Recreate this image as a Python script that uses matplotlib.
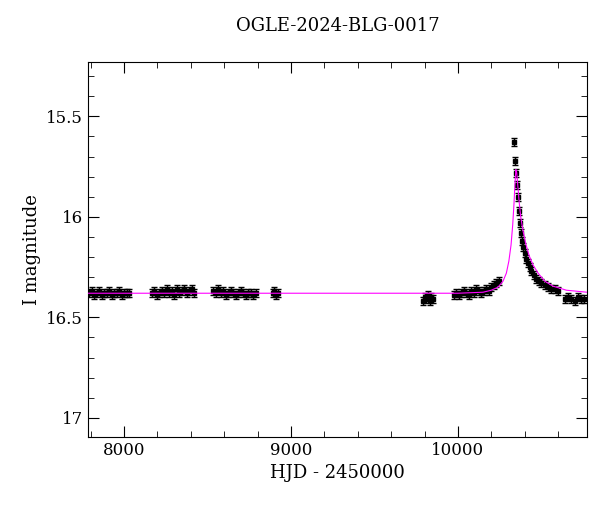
import matplotlib
matplotlib.use("Agg")
import matplotlib.pyplot as plt
from matplotlib.ticker import MultipleLocator

title = "OGLE-2024-BLG-0017"
xlabel = "HJD - 2450000"
ylabel = "I magnitude"

hjd = [7790,7805,7820,7835,7850,7865,7880,7895,7910,7925,7940,7955,7970,7985,8000,8015,8030,
       8165,8180,8195,8210,8225,8240,8255,8270,8285,8300,8315,8330,8345,8360,8375,8390,8405,8418,
       8535,8550,8565,8580,8595,8610,8625,8640,8655,8670,8685,8700,8715,8730,8745,8760,8775,8790,
       8890,8900,8910,8920,
       9790,9800,9810,9820,9830,9840,9850,
       9975,9990,10005,10020,10035,10050,10065,10080,10095,10110,10125,10140,10155,10170,10185,10200,10215,10230,10245,
       10335,10342,10350,10356,10362,10368,10374,10380,10386,10392,10400,10410,10420,10430,10440,10455,10470,10485,10500,10520,10540,10560,10580,10600,
       10640,10660,10680,10700,10720,10740,10755]
mag = [16.38,16.37,16.39,16.38,16.37,16.39,16.38,16.38,16.37,16.39,16.38,16.38,16.37,16.39,16.38,16.38,16.38,
       16.38,16.37,16.39,16.38,16.37,16.38,16.36,16.38,16.37,16.39,16.36,16.38,16.37,16.36,16.38,16.37,16.36,16.38,
       16.37,16.38,16.36,16.38,16.37,16.39,16.38,16.37,16.38,16.39,16.38,16.37,16.38,16.39,16.38,16.38,16.39,16.38,
       16.38,16.37,16.39,16.38,
       16.42,16.40,16.41,16.39,16.42,16.40,16.41,
       16.39,16.38,16.39,16.38,16.37,16.38,16.39,16.37,16.38,16.36,16.37,16.38,16.37,16.36,16.37,16.35,16.34,16.33,16.32,
       15.63,15.72,15.78,15.84,15.90,15.97,16.03,16.08,16.12,16.15,16.18,16.21,16.23,16.25,16.27,16.29,16.31,16.32,16.33,16.34,16.35,16.36,16.36,16.37,
       16.41,16.40,16.41,16.42,16.40,16.41,16.41]
err = 0.02

model_t = [7780,10000,10150,10200,10240,10270,10290,10305,10318,10328,10336,10342,10347,10352,10358,
           10366,10376,10390,10405,10425,10450,10480,10520,10570,10650,10773]
model_m = [16.38,16.38,16.375,16.365,16.35,16.32,16.28,16.22,16.14,16.04,15.93,15.83,15.765,15.78,15.84,
           15.92,16.00,16.07,16.13,16.19,16.24,16.28,16.32,16.345,16.365,16.375]

plt.rcParams["font.family"] = "DejaVu Serif"
fig = plt.figure(figsize=(6.0, 5.12), dpi=100)
ax = fig.add_axes([88/600, 1-437/512, 499/600, 375/512])
ax.errorbar(hjd, mag, yerr=err, fmt="s", ms=3, color="black", ecolor="black", elinewidth=1, capsize=2, zorder=2)
ax.plot(model_t, model_m, color="magenta", lw=0.8, zorder=3)
ax.set_xlim(7784, 10773)
ax.set_ylim(17.095, 15.23)
ax.xaxis.set_major_locator(MultipleLocator(1000))
ax.xaxis.set_minor_locator(MultipleLocator(200))
ax.yaxis.set_major_locator(MultipleLocator(0.5))
ax.yaxis.set_minor_locator(MultipleLocator(0.1))
ax.yaxis.set_major_formatter(matplotlib.ticker.FuncFormatter(lambda v, p: f"{v:g}"))
ax.tick_params(which="both", direction="in", top=True, right=True, labelsize=12)
ax.tick_params(which="major", length=8)
ax.tick_params(which="minor", length=4)
ax.set_title(title, fontsize=13, pad=22)
ax.set_xlabel(xlabel, fontsize=13)
ax.set_ylabel(ylabel, fontsize=13)
fig.savefig("out.png")
